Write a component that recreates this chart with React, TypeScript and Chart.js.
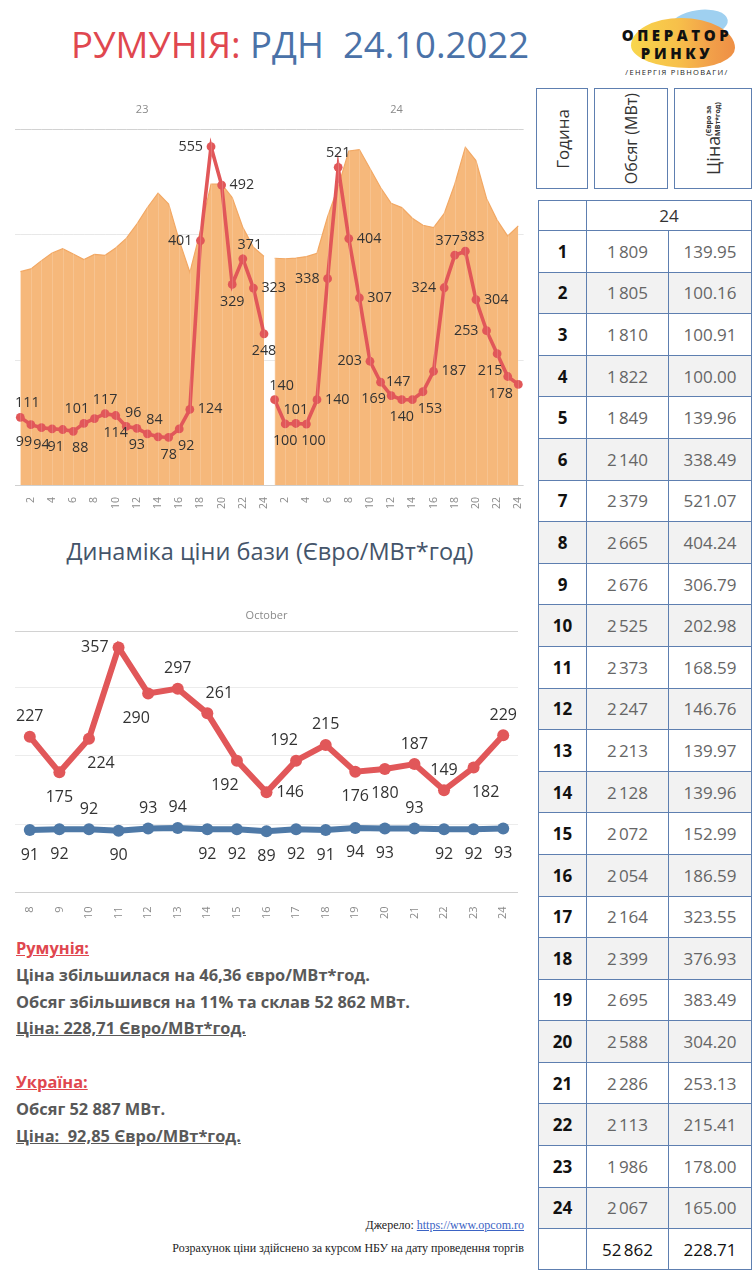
import React, { useEffect, useRef } from 'react';
import { Chart, registerables } from 'chart.js';

Chart.register(...registerables);

// ---------- DATA ----------
const HOURS = ['1', '2', '3', '4', '5', '6', '7', '8', '9', '10', '11', '12', '13', '14', '15', '16', '17', '18', '19', '20', '21', '22', '23', '24'];
const DAY_A = '23';
const DAY_B = '24';
const VOLUME_23 = [1702, 1724, 1790, 1851, 1885, 1843, 1798, 1840, 1832, 1891, 1967, 2081, 2214, 2328, 2241, 1949, 1697, 2028, 2400, 2400, 2294, 2055, 1896, 1824];
const PRICE_23 = [111, 99, 94, 92, 91, 88, 101, 109, 117, 114, 96, 93, 84, 79, 78, 92, 124, 401, 555, 492, 329, 371, 323, 248];
const VOLUME_24 = [1809, 1805, 1810, 1822, 1849, 2140, 2379, 2665, 2676, 2525, 2373, 2247, 2213, 2128, 2072, 2054, 2164, 2399, 2695, 2588, 2286, 2113, 1986, 2067];
const PRICE_24 = [139.95, 100.16, 100.91, 100.0, 139.96, 338.49, 521.07, 404.24, 306.79, 202.98, 168.59, 146.76, 139.97, 139.96, 152.99, 186.59, 323.55, 376.93, 383.49, 304.2, 253.13, 215.41, 178.0, 165.0];
const TOTAL_VOLUME = '52\u202F862';
const AVG_PRICE = '228.71';
const VOLUME_GRID = [1000, 2000];
const VOLUME_MAX = 2840;
const PRICE_MAX = 584;

const DAYS = ['8', '9', '10', '11', '12', '13', '14', '15', '16', '17', '18', '19', '20', '21', '22', '23', '24'];
const MONTH = 'October';
const RO_BASE = [227, 175, 224, 357, 290, 297, 261, 192, 146, 192, 215, 176, 180, 187, 149, 182, 229];
const UA_BASE = [91, 92, 92, 90, 93, 94, 92, 92, 89, 92, 91, 94, 93, 93, 92, 92, 93];
const BASE_GRID = [100, 200, 300];
const BASE_MAX = 381;

// label placement (a=above, b=below, l=left, r=right, al/ar/bl/br diagonal, '' = hidden)
const PLACE_23 = ['ar', 'bl', 'b', '', 'bl', 'br', 'al', '', 'a', 'b', 'ar', 'b', 'ar', '', 'b', 'br', 'r', 'l', 'l', 'r', 'b', 'ar', 'r', 'b'];
const PLACE_24 = ['ar', 'b', 'a', 'br', 'r', 'l', 'a', 'r', 'r', 'l', 'bl', 'ar', 'b', '', 'br', 'r', 'l', 'al', 'ar', 'r', 'l', 'bl', 'bl', ''];
const PLACE_RO = ['a', 'b', 'br', 'l', 'bl', 'a', 'ar', 'bl', 'r', 'al', 'a', 'b', 'b', 'a', 'a', 'br', 'a'];
const PLACE_UA = ['b', 'b', 'a', 'b', 'a', 'a', 'b', 'b', 'b', 'b', 'b', 'b', 'b', 'a', 'b', 'b', 'b'];

// ---------- STYLE ----------
const FONT = '"Open Sans", "Noto Sans", sans-serif';
const RED = '#E15759';
const BLUE = '#4E79A7';
const AREA = '#F6B87B';
const AREA_EDGE = '#F2A864';

const pointLabels = {
  id: 'pointLabels',
  afterDraw(chart: any, _args: any, opts: any) {
    const ctx = chart.ctx;
    const { above, below, gap, shift, size } = opts;
    chart.data.datasets.forEach((ds: any, di: number) => {
      const pos = ds.labelPos;
      if (!pos) return;
      const meta = chart.getDatasetMeta(di);
      ctx.save();
      ctx.font = `${size}px ${FONT}`;
      ctx.fillStyle = '#333';
      meta.data.forEach((pt: any, i: number) => {
        const v = ds.data[i];
        const p = pos[i];
        if (v == null || !p) return;
        const txt = String(Math.round(v));
        let x = pt.x;
        let y = pt.y;
        ctx.textBaseline = 'middle';
        ctx.textAlign = 'center';
        if (p === 'a') y -= above;
        else if (p === 'b') y += below;
        else if (p === 'l') { ctx.textAlign = 'right'; x -= gap; }
        else if (p === 'r') { ctx.textAlign = 'left'; x += gap; }
        else if (p === 'al') { x -= shift; y -= above; }
        else if (p === 'ar') { x += shift; y -= above; }
        else if (p === 'bl') { x -= shift; y += below; }
        else if (p === 'br') { x += shift; y += below; }
        ctx.fillText(txt, x, y);
      });
      ctx.restore();
    });
    if (opts.cover) {
      ctx.save();
      ctx.fillStyle = '#ffffff';
      ctx.fillRect(0, 0, chart.width, opts.cover);
      ctx.restore();
    }
  },
};

// frame: header texts, header line, grid lines, axis base line, faint column stripes
const frame = {
  id: 'frame',
  beforeDatasetsDraw(chart: any, _args: any, opts: any) {
    const { ctx, chartArea } = chart;
    const { left, right, top } = chartArea;
    const s = chart.scales[opts.axis];
    const hline = (y: number, color: string) => {
      const yy = Math.round(y) + 0.5;
      ctx.strokeStyle = color;
      ctx.beginPath();
      ctx.moveTo(left, yy);
      ctx.lineTo(right, yy);
      ctx.stroke();
    };
    ctx.save();
    ctx.lineWidth = 1;
    (opts.values || []).forEach((v: number) => hline(s.getPixelForValue(v), opts.color));
    hline(top, opts.topColor);
    ctx.restore();
  },
  afterDatasetsDraw(chart: any, _args: any, opts: any) {
    const { ctx, chartArea } = chart;
    const { left, right, top, bottom } = chartArea;
    const xs = chart.scales.x;
    ctx.save();
    ctx.lineWidth = 1;
    if (opts.stripes) {
      ctx.strokeStyle = opts.stripes;
      for (let i = 0; i < chart.data.labels.length; i++) {
        const x = Math.round(xs.getPixelForValue(i)) + 0.5;
        ctx.beginPath();
        ctx.moveTo(x, top);
        ctx.lineTo(x, bottom);
        ctx.stroke();
      }
    }
    ctx.strokeStyle = opts.baseColor;
    const yb = Math.round(bottom) + 0.5;
    ctx.beginPath();
    ctx.moveTo(left, yb);
    ctx.lineTo(right, yb);
    ctx.stroke();
    ctx.font = `11px ${FONT}`;
    ctx.fillStyle = '#8a8a8a';
    ctx.textAlign = 'center';
    ctx.textBaseline = 'middle';
    (opts.items || []).forEach((it: any) => {
      const x = (xs.getPixelForValue(it.from) + xs.getPixelForValue(it.to)) / 2;
      ctx.fillText(it.text, x, top - opts.dy);
    });
    ctx.restore();
  },
};

function pad<T>(arr: T[], before: number, after: number): (T | null)[] {
  const out: (T | null)[] = [];
  for (let i = 0; i < before; i++) out.push(null);
  arr.forEach((v) => out.push(v));
  for (let i = 0; i < after; i++) out.push(null);
  return out;
}

function HourlyChart() {
  const ref = useRef<HTMLCanvasElement>(null);
  useEffect(() => {
    const labels = HOURS.concat(HOURS);
    const n = HOURS.length;
    const lineDs = (data: any[], place: any[]) => ({
      type: 'line',
      data,
      labelPos: place,
      yAxisID: 'yp',
      order: 0,
      borderColor: RED,
      backgroundColor: RED,
      borderWidth: 3.6,
      pointRadius: 4.4,
      pointBorderWidth: 0,
      pointBackgroundColor: RED,
      spanGaps: false,
      fill: false,
    });
    const areaDs = (data: any[]) => ({
      type: 'line',
      data,
      yAxisID: 'yv',
      order: 1,
      borderColor: AREA_EDGE,
      backgroundColor: AREA,
      borderWidth: 1.2,
      pointRadius: 0,
      fill: 'origin',
      spanGaps: false,
    });
    const chart = new Chart(ref.current!, {
      type: 'line',
      data: {
        labels,
        datasets: [
          lineDs(pad(PRICE_23, 0, n), pad(PLACE_23, 0, n)),
          lineDs(pad(PRICE_24, n, 0), pad(PLACE_24, n, 0)),
          areaDs(pad(VOLUME_23, 0, n)),
          areaDs(pad(VOLUME_24, n, 0)),
        ] as any,
      },
      options: {
        animation: false,
        responsive: false,
        maintainAspectRatio: false,
        layout: { padding: { left: 15, right: 8, top: 47, bottom: 1 } },
        plugins: {
          legend: { display: false },
          tooltip: { enabled: false },
          pointLabels: { above: 14, below: 17, gap: 8, shift: 7, size: 14.3, cover: 20 },
          frame: {
            axis: 'yv',
            values: VOLUME_GRID,
            color: '#e8e8e8',
            topColor: '#d2d2d2',
            baseColor: '#d0d0d0',
            stripes: 'rgba(255,255,255,0.16)',
            dy: 19,
            items: [{ text: DAY_A, from: 0, to: n - 1 }, { text: DAY_B, from: n, to: 2 * n - 1 }],
          },
        } as any,
        scales: {
          x: {
            offset: true,
            grid: { display: false },
            border: { display: false },
            ticks: {
              autoSkip: false,
              minRotation: 90,
              maxRotation: 90,
              padding: 4,
              color: '#8a8a8a',
              font: { size: 10.5, family: FONT },
              callback: function (this: any, v: any) {
                const h = Number(this.getLabelForValue(v));
                return h % 2 === 0 ? String(h) : '';
              },
            },
          },
          yv: { display: false, min: 0, max: VOLUME_MAX },
          yp: { display: false, min: 0, max: PRICE_MAX },
        },
      } as any,
      plugins: [frame, pointLabels],
    });
    return () => chart.destroy();
  }, []);
  return <canvas ref={ref} width={535} height={432} style={{ position: 'absolute', left: 0, top: 82 }} />;
}

function DailyChart() {
  const ref = useRef<HTMLCanvasElement>(null);
  useEffect(() => {
    const ds = (data: number[], color: string, place: string[]) => ({
      data,
      labelPos: place,
      borderColor: color,
      backgroundColor: color,
      borderWidth: 6,
      pointRadius: 6,
      pointBorderWidth: 0,
      pointBackgroundColor: color,
      fill: false,
    });
    const chart = new Chart(ref.current!, {
      type: 'line',
      data: {
        labels: DAYS,
        datasets: [ds(RO_BASE, RED, PLACE_RO), ds(UA_BASE, BLUE, PLACE_UA)] as any,
      },
      options: {
        animation: false,
        responsive: false,
        maintainAspectRatio: false,
        layout: { padding: { left: 15, right: 17, top: 33, bottom: 0 } },
        plugins: {
          legend: { display: false },
          tooltip: { enabled: false },
          pointLabels: { above: 20, below: 25, gap: 10, shift: 12, size: 16, cover: 0 },
          frame: {
            axis: 'y',
            values: BASE_GRID,
            color: '#ececec',
            topColor: '#d2d2d2',
            baseColor: '#d0d0d0',
            dy: 15,
            items: [{ text: MONTH, from: 0, to: DAYS.length - 1 }],
          },
        } as any,
        scales: {
          x: {
            offset: true,
            grid: { display: false },
            border: { display: false },
            ticks: {
              autoSkip: false,
              minRotation: 90,
              maxRotation: 90,
              padding: 6,
              color: '#8a8a8a',
              font: { size: 11, family: FONT },
            },
          },
          y: { display: false, min: 0, max: BASE_MAX },
        },
      } as any,
      plugins: [frame, pointLabels],
    });
    return () => chart.destroy();
  }, []);
  return <canvas ref={ref} width={535} height={327} style={{ position: 'absolute', left: 0, top: 598 }} />;
}

const fmtVol = (v: number) => {
  const s = String(v);
  return s.length > 3 ? s.slice(0, s.length - 3) + '\u202F' + s.slice(s.length - 3) : s;
};

const BORDER = '1px solid #5e7fb0';

function HourTable() {
  const cell: React.CSSProperties = { border: BORDER, textAlign: 'center', padding: 0, fontSize: 17 };
  return (
    <table
      style={{
        position: 'absolute',
        left: 538,
        top: 200,
        width: 213,
        borderCollapse: 'collapse',
        tableLayout: 'fixed',
        fontFamily: FONT,
      }}
    >
      <colgroup>
        <col style={{ width: 48 }} />
        <col style={{ width: 82 }} />
        <col style={{ width: 83 }} />
      </colgroup>
      <tbody>
        <tr style={{ height: 30 }}>
          <td style={cell}></td>
          <td colSpan={2} style={{ ...cell, color: '#333' }}>{DAY_B}</td>
        </tr>
        {HOURS.map((h, i) => (
          <tr key={h} style={{ height: 41.6, background: i % 2 === 1 ? '#f2f2f2' : '#ffffff' }}>
            <td style={{ ...cell, fontWeight: 700, color: '#111' }}>{h}</td>
            <td style={{ ...cell, color: '#666' }}>{fmtVol(VOLUME_24[i])}</td>
            <td style={{ ...cell, color: '#666' }}>{PRICE_24[i].toFixed(2)}</td>
          </tr>
        ))}
        <tr style={{ height: 41 }}>
          <td style={cell}></td>
          <td style={{ ...cell, color: '#111' }}>{TOTAL_VOLUME}</td>
          <td style={{ ...cell, color: '#111' }}>{AVG_PRICE}</td>
        </tr>
      </tbody>
    </table>
  );
}

function HeaderBoxes() {
  const box: React.CSSProperties = {
    position: 'absolute',
    top: 88,
    height: 101,
    border: BORDER,
    boxSizing: 'border-box',
    display: 'flex',
    alignItems: 'center',
    justifyContent: 'center',
    fontFamily: FONT,
    color: '#333',
  };
  const vert: React.CSSProperties = { writingMode: 'vertical-rl', transform: 'rotate(180deg)', whiteSpace: 'nowrap' };
  return (
    <>
      <div style={{ ...box, left: 536, width: 52 }}>
        <div style={{ ...vert, fontSize: 17 }}>Година</div>
      </div>
      <div style={{ ...box, left: 594, width: 74 }}>
        <div style={{ ...vert, fontSize: 16 }}>Обсяг (МВт)</div>
      </div>
      <div style={{ ...box, left: 674, width: 78 }}>
        <div style={{ ...vert, display: 'flex', alignItems: 'center' }}>
          <span style={{ fontSize: 18 }}>Ціна</span>
          <span style={{ fontSize: 7, fontWeight: 700, lineHeight: '9px', marginTop: 0 }}>
            (Євро за
            <br />
            МВт*год)
          </span>
        </div>
      </div>
    </>
  );
}

function Logo() {
  return (
    <div style={{ position: 'absolute', left: 600, top: 0, width: 154, height: 84 }}>
      <div style={{ position: 'absolute', left: 70, top: 10, width: 58, height: 28, borderRadius: '50%', background: '#9fd0f0', transform: 'rotate(-8deg)' }} />
      <div
        style={{
          position: 'absolute',
          left: 31,
          top: 18,
          width: 104,
          height: 50,
          borderRadius: '48% 52% 44% 56% / 55% 60% 40% 45%',
          background: 'linear-gradient(90deg, #f8d64c 0%, #f7c04a 45%, #f2a14a 75%, #ee8f45 100%)',
        }}
      />
      <div style={{ position: 'absolute', left: 0, width: 154, top: 25, textAlign: 'center', fontFamily: FONT, fontWeight: 800, fontSize: 15, letterSpacing: 3.6, color: '#111' }}>
        ОПЕРАТОР
      </div>
      <div style={{ position: 'absolute', left: 0, width: 154, top: 43, textAlign: 'center', fontFamily: FONT, fontWeight: 800, fontSize: 15, letterSpacing: 3.6, color: '#111' }}>
        РИНКУ
      </div>
      <div style={{ position: 'absolute', left: 0, width: 154, top: 67, textAlign: 'center', fontFamily: FONT, fontSize: 7.5, letterSpacing: 1.3, color: '#222' }}>
        /ЕНЕРГІЯ РІВНОВАГИ/
      </div>
    </div>
  );
}

function Notes() {
  const line: React.CSSProperties = { height: 26.8, lineHeight: '26.8px', whiteSpace: 'pre' };
  const red: React.CSSProperties = { ...line, color: '#E0474F', textDecoration: 'underline' };
  const und: React.CSSProperties = { ...line, textDecoration: 'underline' };
  return (
    <div style={{ position: 'absolute', left: 16, top: 935, fontFamily: FONT, fontWeight: 700, fontSize: 16.4, color: '#595959' }}>
      <div style={red}>Румунія:</div>
      <div style={line}>Ціна збільшилася на 46,36 євро/МВт*год.</div>
      <div style={line}>Обсяг збільшився на 11% та склав 52 862 МВт.</div>
      <div style={und}>Ціна: 228,71 Євро/МВт*год.</div>
      <div style={line}> </div>
      <div style={red}>Україна:</div>
      <div style={line}>Обсяг 52 887 МВт.</div>
      <div style={und}>Ціна:  92,85 Євро/МВт*год.</div>
    </div>
  );
}

export default function App() {
  return (
    <div style={{ position: 'absolute', left: 0, top: 0, width: 754, height: 1280, background: '#fff', overflow: 'hidden' }}>
      <div style={{ position: 'absolute', left: 0, top: 19, width: 600, textAlign: 'center', fontFamily: FONT, fontSize: 36.5, whiteSpace: 'pre', lineHeight: '50px' }}>
        <span style={{ color: '#E0474F' }}>РУМУНІЯ:</span>
        <span style={{ color: '#4A72A8' }}> РДН  24.10.2022</span>
      </div>
      <Logo />
      <HourlyChart />
      <div style={{ position: 'absolute', left: 0, top: 533, width: 540, textAlign: 'center', fontFamily: FONT, fontSize: 23.5, color: '#44546A', lineHeight: '36px' }}>
        Динаміка ціни бази (Євро/МВт*год)
      </div>
      <DailyChart />
      <Notes />
      <HeaderBoxes />
      <HourTable />
      <div style={{ position: 'absolute', right: 754 - 524, top: 1218, fontFamily: '"Liberation Serif", "DejaVu Serif", serif', fontSize: 12, color: '#222', whiteSpace: 'nowrap' }}>
        Джерело: <span style={{ color: '#3b63c4', textDecoration: 'underline' }}>https://www.opcom.ro</span>
      </div>
      <div style={{ position: 'absolute', right: 754 - 524, top: 1241, fontFamily: '"Liberation Serif", "DejaVu Serif", serif', fontSize: 12, color: '#222', whiteSpace: 'nowrap' }}>
        Розрахунок ціни здійснено за курсом НБУ на дату проведення торгів
      </div>
    </div>
  );
}
